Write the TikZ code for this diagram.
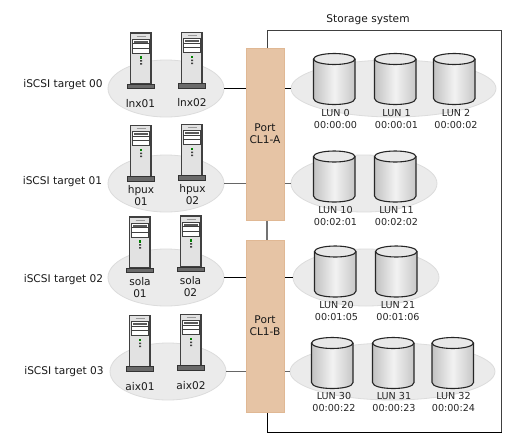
\documentclass[tikz,border=0pt]{standalone}
\usepackage{fontspec}
\setmainfont{DejaVu Sans}
\usetikzlibrary{shapes.geometric}
\definecolor{portfill}{HTML}{E6C4A5}
\definecolor{portedge}{HTML}{E0B894}
\definecolor{ellfill}{HTML}{EBEBEB}
\definecolor{elledge}{HTML}{DCDCDC}
\definecolor{towerfill}{HTML}{E2E2E2}
\definecolor{baseg}{HTML}{6A6A6A}
\tikzset{
 every node/.style={font=\fontsize{10.6}{12}\selectfont,inner sep=0pt,align=center,text=black!90},
 zone/.style={ellipse,draw=elledge,fill=ellfill,line width=0.8pt,minimum height=57pt},
 portbox/.style={draw=portedge,fill=portfill,line width=0.8pt,minimum width=38pt},
 link/.style={draw=black,line width=1pt},
 linkg/.style={draw=black!60,line width=1pt},
 frameln/.style={draw=black!75,line width=1pt},
 lunlabel/.style={text=black!85,font=\fontsize{9.6}{11.6}\selectfont},
}
% server: #1 left x of tower, #2 top y
\newcommand{\srv}[2]{%
 \begin{scope}[shift={(#1,#2)}]
  \draw[line width=1.1pt,draw=black!75,fill=towerfill] (0,0) rectangle (20.5,51);
  \draw[black!40,line width=0.8pt] (6,3) -- (15,3);
  \fill[white] (2,6) rectangle (18.5,20);
  \draw[black!75,line width=0.8pt] (2,6) rectangle (18.5,20) (2,15) -- (18.5,15) (2,10.5) -- (18.5,10.5);
  \fill[black!65] (3.5,7.5) rectangle (17,9.5);
  \fill[green!50!black] (9.5,23) rectangle (11.5,25.5);
  \fill[black!75] (9.5,27) rectangle (11.5,28.5) (9.5,30) rectangle (11.5,31.5);
  \draw[black!80,fill=baseg,line width=0.5pt] (-3,51) rectangle (23.5,55.5);
 \end{scope}}
% cylinder: #1 left x, #2 top y, #3 width, #4 height
\newcommand{\cyl}[4]{%
 \begin{scope}[shift={(#1,#2)}]
  \shade[left color=black!24,right color=black!22,middle color=black!5]
    (0,6) -- (#3,6) -- (#3,#4-6) .. controls (#3,#4+2) and (0,#4+2) .. (0,#4-6) -- cycle;
  \fill[black!9] (#3/2,6) ellipse[x radius=#3/2,y radius=5.5];
  \draw[black!85,line width=1.1pt] (0,6) -- (0,#4-6) .. controls (0,#4+2) and (#3,#4+2) .. (#3,#4-6) -- (#3,6);
  \draw[black!85,line width=1.1pt] (#3/2,6) ellipse[x radius=#3/2,y radius=5.5];
 \end{scope}}
\begin{document}
\begin{tikzpicture}[x=1pt,y=-1pt]
\useasboundingbox (0,0) rectangle (528,445);
\fill[white] (0,0) rectangle (528,445);
\path node[portbox,minimum height=172pt,draw=none,fill=none] (portA) at (265,134.5) {}
      node[portbox,minimum height=172pt,draw=none,fill=none] (portB) at (265,326) {};
% frame
\coordinate (fa) at (267.5,48);
\coordinate (fb) at (267.5,30.5);
\coordinate (fc) at (501.5,30.5);
\coordinate (fd) at (501.5,432.5);
\coordinate (fe) at (267.5,432.5);
\coordinate (ff) at (267.5,412);
\draw[frameln] (fa) -- (fb) -- (fc) -- (fd);
\draw[draw=black,line width=1pt] (fd) -- (fe) -- (ff);
\coordinate (ga) at (267,220);
\coordinate (gb) at (267,240);
\draw[draw=black!55,line width=1.8pt] (ga) -- (gb);
\node (storage) at (368,20) {Storage system};
% zones
\node[zone,minimum width=116pt] (h0) at (166,88.5) {};
\node[zone,minimum width=116pt] (h1) at (166,183.5) {};
\node[zone,minimum width=116pt] (h2) at (166,277.5) {};
\node[zone,minimum width=116pt] (h3) at (168,371.5) {};
\node[zone,minimum width=205pt] (l0) at (393.5,88.5) {};
\node[zone,minimum width=146pt] (l1) at (364,183.5) {};
\node[zone,minimum width=146pt] (l2) at (366,277.5) {};
\node[zone,minimum width=205pt] (l3) at (392.5,371.5) {};
% connectors
\draw[link] (h0.east) -- (h0.east -| portA.west);
\draw[linkg] (h1.east) -- (h1.east -| portA.west);
\draw[link] (h2.east) -- (h2.east -| portB.west);
\draw[linkg] (h3.east) -- (h3.east -| portB.west);
\draw[link] (l0.west) -- (l0.west -| portA.east);
\draw[linkg] (l1.west) -- (l1.west -| portA.east);
\draw[link] (l2.west) -- (l2.west -| portB.east);
\draw[linkg] (l3.west) -- (l3.west -| portB.east);
% ports
\node[portbox,minimum height=172pt] (pa) at (265,134.5) {};
\node[portbox,minimum height=172pt] (pb) at (265,326) {};
\node (paL) at (265,134) {Port\\CL1-A};
\node (pbL) at (265,325.5) {Port\\CL1-B};
% targets
\node (t0) at (63,85) {iSCSI target 00};
\node (t1) at (62.5,182) {iSCSI target 01};
\node (t2) at (63.5,280) {iSCSI target 02};
\node (t3) at (64,372) {iSCSI target 03};
% servers
\srv{130.5}{33}\srv{181.5}{32.5}
\srv{130.5}{125.5}\srv{181.5}{124.5}
\srv{129.5}{217}\srv{180.5}{216}
\srv{129.5}{315.5}\srv{180.5}{314.5}
\node (s00) at (140.5,104) {lnx01};
\node (s01) at (192,102.5) {lnx02};
\node (s10) at (141,196) {hpux\\01};
\node (s11) at (192.5,195) {hpux\\02};
\node (s20) at (140,287.5) {sola\\01};
\node (s21) at (190.5,286.5) {sola\\02};
\node (s30) at (140,387) {aix01};
\node (s31) at (191,386) {aix02};
% cylinders
\cyl{313.5}{53}{41.5}{51.5}\cyl{374.5}{53}{41.5}{51.5}\cyl{433.5}{53}{41.5}{51.5}
\cyl{313.5}{150.5}{41.5}{51.5}\cyl{374.5}{150.5}{41.5}{51.5}
\cyl{314.5}{245.5}{41.5}{51.5}\cyl{375.5}{245.5}{41.5}{51.5}
\cyl{311.5}{337}{41.5}{51.5}\cyl{372.5}{337}{41.5}{51.5}\cyl{432}{337}{41.5}{51.5}
% LUN labels
\node[lunlabel] (n00) at (335.5,119) {LUN 0\\00:00:00};
\node[lunlabel] (n01) at (396.5,119) {LUN 1\\00:00:01};
\node[lunlabel] (n02) at (456,119) {LUN 2\\00:00:02};
\node[lunlabel] (n10) at (335.5,216) {LUN 10\\00:02:01};
\node[lunlabel] (n11) at (396.5,216) {LUN 11\\00:02:02};
\node[lunlabel] (n20) at (336.5,311) {LUN 20\\00:01:05};
\node[lunlabel] (n21) at (398,311) {LUN 21\\00:01:06};
\node[lunlabel] (n30) at (334,402) {LUN 30\\00:00:22};
\node[lunlabel] (n31) at (394,402) {LUN 31\\00:00:23};
\node[lunlabel] (n32) at (453.5,402) {LUN 32\\00:00:24};
\end{tikzpicture}
\end{document}
